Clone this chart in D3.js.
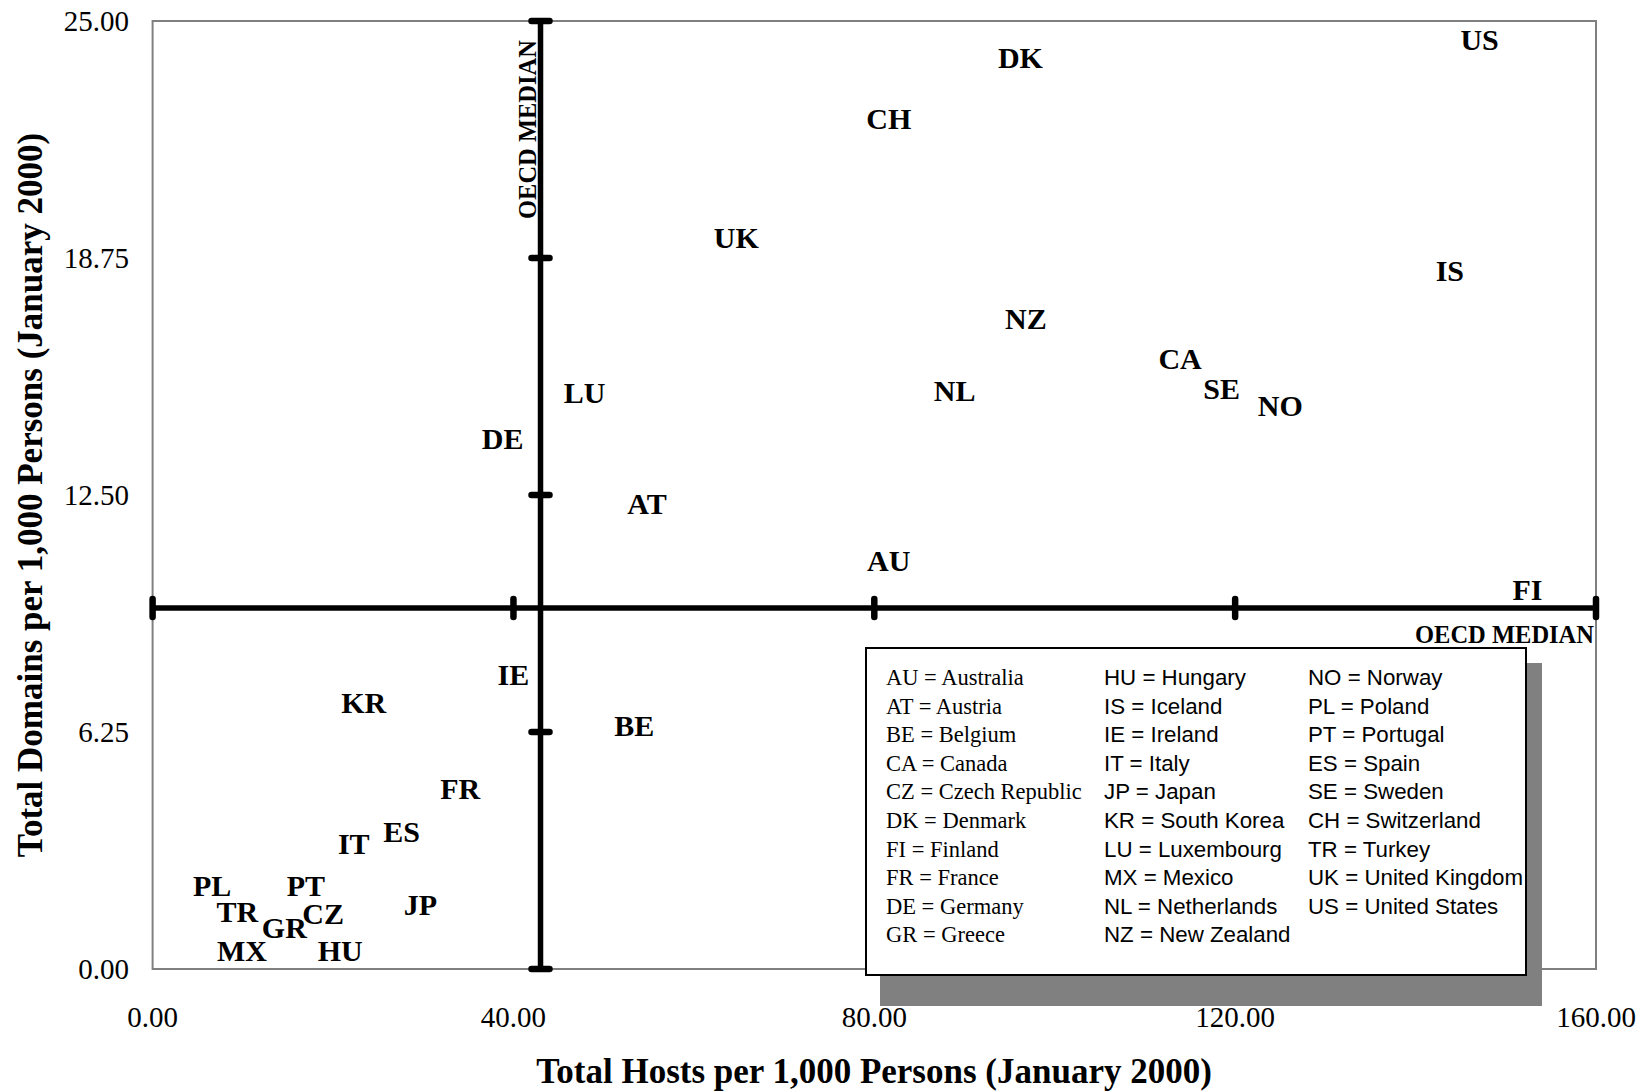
<!DOCTYPE html>
<html>
<head>
<meta charset="utf-8">
<script src="https://cdn.jsdelivr.net/npm/d3@7"></script>
<style>
  body { margin: 0; background: #fff; }
  text { fill: #000; }
  .pt-label { font-family: "Liberation Serif", "Times New Roman", serif; font-weight: bold; font-size: 30px; }
  .tick-label { font-family: "Liberation Serif", "Times New Roman", serif; font-size: 29px; }
  .axis-title { font-family: "Liberation Serif", "Times New Roman", serif; font-weight: bold; font-size: 35px; }
  .median-label { font-family: "Liberation Serif", "Times New Roman", serif; font-weight: bold; font-size: 24.5px; }
  .leg-serif { font-family: "Liberation Serif", "Times New Roman", serif; font-size: 22.5px; }
  .leg-sans { font-family: "Liberation Sans", Arial, sans-serif; font-size: 22.3px; }
</style>
</head>
<body>
<div id="chart"></div>
<script>
// country codes and values
var codes   = ['US', 'DK', 'CH', 'UK', 'IS', 'NZ', 'CA', 'NL', 'SE', 'NO', 'LU', 'DE', 'AT', 'AU', 'FI',
               'IE', 'KR', 'BE', 'FR', 'ES', 'IT', 'PL', 'PT', 'JP', 'TR', 'CZ', 'GR', 'MX', 'HU'];
var hosts   = [147.1, 96.2, 81.6, 64.7, 143.8, 96.8, 113.9, 88.9, 118.5, 125.0, 47.9, 38.8, 54.8, 81.6, 152.4,
               40.0, 23.4, 53.4, 34.1, 27.6, 22.3, 6.6, 17.0, 29.7, 9.4, 18.9, 14.6, 9.9, 20.8];
var domains = [24.5, 24.03, 22.42, 19.28, 18.42, 17.15, 16.09, 15.23, 15.29, 14.84, 15.2, 13.98, 12.26, 10.77, 9.99,
               7.74, 7.02, 6.41, 4.74, 3.61, 3.30, 2.19, 2.19, 1.69, 1.50, 1.44, 1.08, 0.47, 0.47];

var xTicks = [0, 40, 80, 120, 160];
var yTicks = [0, 6.25, 12.5, 18.75, 25];
var medianHosts = 43.0;
var medianDomains = 9.52;

var legendCol1 = ['AU = Australia', 'AT = Austria', 'BE = Belgium', 'CA = Canada', 'CZ = Czech Republic',
                  'DK = Denmark', 'FI = Finland', 'FR = France', 'DE = Germany', 'GR = Greece'];
var legendCol2 = ['HU = Hungary', 'IS = Iceland', 'IE = Ireland', 'IT = Italy', 'JP = Japan',
                  'KR = South Korea', 'LU = Luxembourg', 'MX = Mexico', 'NL = Netherlands', 'NZ = New Zealand'];
var legendCol3 = ['NO = Norway', 'PL = Poland', 'PT = Portugal', 'ES = Spain', 'SE = Sweden',
                  'CH = Switzerland', 'TR = Turkey', 'UK = United Kingdom', 'US = United States'];

var W = 1650, H = 1091;
var plot = {left: 152.6, right: 1596, top: 21, bottom: 969};

var svg = d3.select('#chart').append('svg')
  .attr('width', W)
  .attr('height', H);

var x = d3.scaleLinear().domain([0, 160]).range([plot.left, plot.right]);
var y = d3.scaleLinear().domain([0, 25]).range([plot.bottom, plot.top]);

// plot frame
svg.append('rect')
  .attr('x', plot.left)
  .attr('y', plot.top)
  .attr('width', plot.right - plot.left)
  .attr('height', plot.bottom - plot.top)
  .attr('fill', 'none')
  .attr('stroke', '#808080')
  .attr('stroke-width', 2);

// tick labels
svg.append('g').selectAll('text')
  .data(yTicks)
  .enter().append('text')
  .attr('class', 'tick-label')
  .attr('x', 129)
  .attr('y', function(d) { return y(d) + 10; })
  .attr('text-anchor', 'end')
  .text(function(d) { return d3.format('.2f')(d); });

svg.append('g').selectAll('text')
  .data(xTicks)
  .enter().append('text')
  .attr('class', 'tick-label')
  .attr('x', function(d) { return x(d); })
  .attr('y', 1027)
  .attr('text-anchor', 'middle')
  .text(function(d) { return d3.format('.2f')(d); });

// axis titles
svg.append('text')
  .attr('class', 'axis-title')
  .attr('x', 874)
  .attr('y', 1083)
  .attr('text-anchor', 'middle')
  .text('Total Hosts per 1,000 Persons (January 2000)');

svg.append('text')
  .attr('class', 'axis-title')
  .attr('transform', 'translate(42,' + ((plot.top + plot.bottom) / 2) + ') rotate(-90)')
  .attr('text-anchor', 'middle')
  .text('Total Domains per 1,000 Persons (January 2000)');

// median cross lines
var med = svg.append('g')
  .attr('stroke', '#000')
  .attr('stroke-linecap', 'round');

med.append('line')
  .attr('x1', x(0)).attr('x2', x(160))
  .attr('y1', y(medianDomains)).attr('y2', y(medianDomains))
  .attr('stroke-width', 5.5);

med.append('line')
  .attr('x1', x(medianHosts)).attr('x2', x(medianHosts))
  .attr('y1', y(0)).attr('y2', y(25))
  .attr('stroke-width', 5.5);

med.selectAll('.xmark')
  .data(xTicks)
  .enter().append('line')
  .attr('class', 'xmark')
  .attr('x1', function(d) { return x(d); })
  .attr('x2', function(d) { return x(d); })
  .attr('y1', y(medianDomains) - 9)
  .attr('y2', y(medianDomains) + 9)
  .attr('stroke-width', 6.5);

med.selectAll('.ymark')
  .data(yTicks)
  .enter().append('line')
  .attr('class', 'ymark')
  .attr('x1', x(medianHosts) - 9)
  .attr('x2', x(medianHosts) + 9)
  .attr('y1', function(d) { return y(d); })
  .attr('y2', function(d) { return y(d); })
  .attr('stroke-width', 6.5);

svg.append('text')
  .attr('class', 'median-label')
  .attr('transform', 'translate(' + (x(medianHosts) - 5) + ',' + (y(25) + 19) + ') rotate(-90)')
  .attr('text-anchor', 'end')
  .text('OECD MEDIAN');

svg.append('text')
  .attr('class', 'median-label')
  .attr('x', x(160) - 2)
  .attr('y', y(medianDomains) + 35)
  .attr('text-anchor', 'end')
  .text('OECD MEDIAN');

// country labels
svg.append('g').selectAll('text')
  .data(codes)
  .enter().append('text')
  .attr('class', 'pt-label')
  .attr('x', function(d, i) { return x(hosts[i]); })
  .attr('y', function(d, i) { return y(domains[i]) + 10; })
  .attr('text-anchor', 'middle')
  .text(function(d) { return d; });

// legend box with shadow
var leg = {x: 866, y: 648, w: 660, h: 327};
svg.append('rect')
  .attr('x', leg.x + 14).attr('y', leg.y + 15)
  .attr('width', leg.w + 2).attr('height', leg.h + 16)
  .attr('fill', '#808080');
svg.append('rect')
  .attr('x', leg.x).attr('y', leg.y)
  .attr('width', leg.w).attr('height', leg.h)
  .attr('fill', '#fff')
  .attr('stroke', '#000')
  .attr('stroke-width', 2);

function legendColumn(items, cx, cls) {
  svg.append('g').selectAll('text')
    .data(items)
    .enter().append('text')
    .attr('class', cls)
    .attr('x', cx)
    .attr('y', function(d, i) { return leg.y + 37 + i * 28.6; })
    .text(function(d) { return d; });
}
legendColumn(legendCol1, 886, 'leg-serif');
legendColumn(legendCol2, 1104, 'leg-sans');
legendColumn(legendCol3, 1308, 'leg-sans');
</script>
</body>
</html>
